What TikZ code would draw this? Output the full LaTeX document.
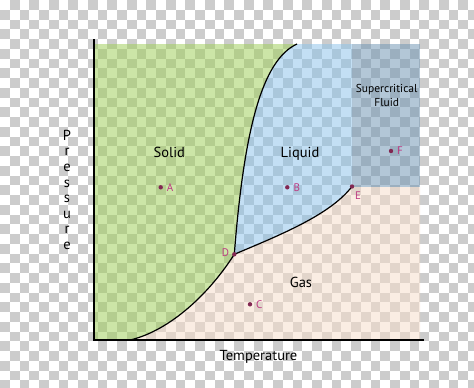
\documentclass[tikz,border=0pt]{standalone}
\usepackage{fontspec}
\setmainfont{PT Sans}
\usepackage{xcolor}
\usepackage{tikz}
\usetikzlibrary{positioning,calc}

\definecolor{solidgreen}{RGB}{159,207,88}
\definecolor{liquidblue}{RGB}{140,195,234}
\definecolor{fluidblue}{RGB}{111,149,180}
\definecolor{gaspeach}{RGB}{247,222,203}
\definecolor{checkgrey}{RGB}{204,204,204}
\definecolor{pointdot}{RGB}{130,40,82}
\definecolor{pointlbl}{RGB}{188,58,130}

\tikzset{
    phase/.style={fill opacity=0.52},
    boundary/.style={black, line width=1.2pt},
    axis/.style={black, line width=1.5pt},
    phaselbl/.style={font=\fontsize{14.5}{16}\selectfont, text=black, anchor=base},
    pointlbl/.style={font=\fontsize{11}{12}\selectfont, text=pointlbl, inner sep=1pt},
}

\begin{document}
\begin{tikzpicture}[x=1pt, y=-1pt]
    \useasboundingbox (0,0) rectangle (474,388);
    \clip (0,0) rectangle (474,388);

    % Checkered backdrop
    \fill[white] (0,0) rectangle (474,388);
    \foreach \i in {0,...,48} {
        \foreach \j in {0,...,39} {
            \ifodd\numexpr\i+\j\relax
                \fill[checkgrey] (\i*9.75, \j*9.75) rectangle ++(9.75, 9.75);
            \fi
        }
    }

    % Key points
    \coordinate (ytop) at (94,39);
    \coordinate (origin) at (94,340);
    \coordinate (xend) at (424,340);
    \coordinate (meltTop) at (297,44);
    \coordinate (sublBot) at (130,340);
    \coordinate (A) at (160.7,187.3);
    \coordinate (B) at (287.3,187.3);
    \coordinate (C) at (250,304.3);
    \coordinate (D) at (234.3,254.3);
    \coordinate (E) at (352,186.5);
    \coordinate (F) at (391,151);

    % Phase regions
    \fill[solidgreen, phase] (94,44) -- (meltTop) .. controls (262,60) and (244,130) .. (D)
        .. controls (205,300) and (165,332) .. (sublBot) -- (origin) -- cycle;
    \fill[liquidblue, phase] (meltTop) -- (352,44) -- (E) .. controls (330,215) and (280,235) .. (D)
        .. controls (244,130) and (262,60) .. (meltTop) -- cycle;
    \fill[fluidblue, phase] (352,44) rectangle (420,187);
    \fill[gaspeach, phase] (D) .. controls (280,235) and (330,215) .. (E) -- (352,187) -- (420,187)
        -- (420,340) -- (sublBot) .. controls (165,332) and (205,300) .. (D) -- cycle;

    % Phase boundaries
    \draw[boundary] (sublBot) .. controls (165,332) and (205,300) .. (D);
    \draw[boundary] (D) .. controls (244,130) and (262,60) .. (meltTop);
    \draw[boundary] (D) .. controls (280,235) and (330,215) .. (E);

    % Axes
    \draw[axis] (ytop) -- (origin) -- (xend);

    % Phase labels
    \node[phaselbl] (solid) at (169.3,157.3) {Solid};
    \node[phaselbl] (liquid) at (300,157.3) {Liquid};
    \node[phaselbl] (gas) at (301,287.3) {Gas};
    \node[phaselbl, font=\fontsize{11.5}{13.3}\selectfont, align=center] (fluid) at (386.7,106) {Supercritical\\Fluid};

    % Axis labels
    \node[phaselbl] (temp) at (258.5,360) {Temperature};
    \node[font=\fontsize{14.5}{15.6}\selectfont, text=black, align=center, anchor=north, inner sep=0pt]
        (pres) at (67,129.8) {P\\r\\e\\s\\s\\u\\r\\e};

    % Points
    \foreach \p in {A,B,C,D,E,F} {
        \fill[pointdot] (\p) circle (2.2);
    }
    \node[pointlbl, right=5pt of A] (labA) {A};
    \node[pointlbl, right=5pt of B] (labB) {B};
    \node[pointlbl, right=5pt of C] (labC) {C};
    \node[pointlbl, left=4pt of D, yshift=2pt] (labD) {D};
    \node[pointlbl, below right=4pt and 2pt of E] (labE) {E};
    \node[pointlbl, right=5pt of F] (labF) {F};
\end{tikzpicture}
\end{document}
